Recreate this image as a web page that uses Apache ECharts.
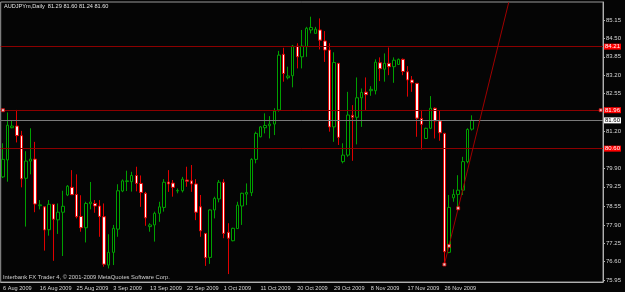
<!DOCTYPE html>
<html>
<head>
<meta charset="utf-8">
<script src="https://cdn.jsdelivr.net/npm/echarts@6/dist/echarts.min.js"></script>
<style>
html, body { margin: 0; padding: 0; background: #050505; }
#chart { width: 625px; height: 292px; }
</style>
</head>
<body>
<div id="chart"></div>
<script>
// ----------- 数据 -----------
var symbolName = 'AUDJPYm,Daily'
var lastQuote = ['81.29', '81.60', '81.24', '81.60']
var footerText = 'Interbank FX Trader 4, \u00a9 2001-2009 MetaQuotes Software Corp.'

// 日线 OHLC, 从 6 Aug 2009 开始 (含周日K线)
var opens = [79.60, 80.20, 81.34, 81.40, 81.06, 79.55, 80.16, 80.23, 78.58, 78.54,
    77.73, 78.63, 78.08, 78.35, 78.96, 79.23, 78.98, 78.20, 77.80, 78.65,
    78.66, 78.57, 78.19, 76.48, 76.93, 77.75, 79.10, 79.44, 79.43, 79.65,
    79.37, 79.02, 77.84, 77.90, 78.31, 78.52, 79.42, 79.38, 79.10, 79.11,
    79.49, 79.46, 79.35, 78.54, 77.60, 76.75, 78.43, 78.82, 79.41, 77.64,
    77.34, 77.77, 78.57, 78.99, 79.04, 80.22, 81.02, 81.34, 81.41, 81.47,
    81.97, 83.94, 83.11, 83.18, 84.23, 83.85, 84.21, 84.80, 84.68, 84.80,
    84.41, 84.09, 81.37, 83.62, 80.14, 80.37, 81.78, 81.71, 82.40, 82.60,
    82.65, 82.65, 83.64, 83.41, 83.62, 83.50, 83.58, 83.76, 83.32, 83.03,
    82.91, 81.67, 80.96, 81.32, 82.03, 81.58, 81.14, 76.93, 78.86, 78.98,
    79.13, 80.14, 81.29]
var closes = [80.22, 81.43, 81.40, 81.06, 79.53, 80.16, 80.23, 78.64, 78.61, 77.72,
    78.63, 78.10, 78.35, 78.56, 79.27, 78.97, 78.19, 77.80, 78.66, 78.71,
    78.57, 78.20, 76.51, 76.93, 77.78, 79.11, 79.46, 79.46, 79.65, 79.37,
    79.05, 78.15, 77.90, 78.31, 78.54, 79.41, 79.35, 79.23, 79.12, 79.52,
    79.45, 79.35, 78.35, 77.69, 76.74, 78.43, 78.84, 79.41, 77.60, 77.43,
    77.78, 78.60, 79.02, 79.05, 80.22, 81.14, 81.37, 81.42, 81.47, 81.93,
    83.91, 83.26, 83.17, 84.23, 83.85, 84.23, 84.86, 84.89, 84.83, 84.44,
    84.09, 81.37, 83.65, 81.00, 80.37, 81.79, 81.71, 82.40, 82.59, 82.51,
    82.70, 83.66, 83.43, 83.62, 83.50, 83.73, 83.76, 83.33, 83.03, 82.93,
    81.68, 81.46, 81.32, 82.03, 81.58, 81.16, 76.95, 78.52, 78.98, 79.13,
    80.14, 81.28, 81.60]
var lows = [79.56, 79.43, 81.32, 80.82, 79.23, 77.84, 79.69, 78.35, 78.45, 76.99,
    77.52, 76.63, 77.58, 76.80, 78.92, 78.96, 78.13, 77.66, 77.28, 78.45,
    78.33, 77.48, 76.42, 76.36, 76.48, 77.48, 79.06, 79.10, 79.08, 79.09,
    78.54, 77.87, 77.66, 77.31, 78.01, 78.37, 79.07, 78.90, 79.02, 79.05,
    79.25, 79.07, 78.07, 77.48, 76.45, 76.52, 78.13, 78.70, 77.43, 76.16,
    77.32, 77.77, 77.90, 78.60, 78.92, 80.08, 81.00, 81.14, 80.96, 81.08,
    81.91, 82.97, 83.05, 82.77, 83.44, 83.44, 83.85, 84.68, 84.68, 84.11,
    83.67, 81.20, 80.84, 80.73, 80.08, 80.31, 80.17, 80.75, 81.37, 81.97,
    82.47, 82.52, 82.99, 82.97, 83.20, 82.93, 83.56, 83.20, 82.44, 82.61,
    81.02, 80.57, 80.94, 81.29, 80.96, 80.88, 76.48, 76.90, 78.72, 78.49,
    78.96, 80.08, 81.24]
var highs = [80.79, 81.88, 81.58, 81.97, 81.23, 80.51, 81.32, 80.84, 78.78, 78.55,
    78.78, 78.64, 78.66, 79.11, 79.31, 79.84, 79.69, 78.95, 78.72, 79.42,
    78.78, 78.78, 78.66, 77.57, 77.90, 79.34, 79.51, 79.82, 79.78, 79.96,
    79.65, 79.07, 77.96, 78.37, 78.72, 79.52, 79.84, 79.49, 79.19, 79.60,
    79.96, 80.02, 79.52, 78.96, 77.60, 78.45, 78.90, 79.49, 79.52, 77.96,
    77.80, 78.72, 79.04, 79.37, 80.26, 81.20, 81.40, 81.85, 81.75, 82.03,
    84.06, 84.17, 83.50, 84.27, 84.33, 84.80, 84.91, 85.27, 84.91, 85.21,
    84.76, 84.33, 84.01, 83.62, 80.79, 82.61, 82.14, 83.12, 82.73, 83.12,
    82.81, 83.76, 83.83, 83.97, 84.18, 83.83, 83.79, 83.79, 83.52, 83.17,
    82.91, 81.97, 81.34, 82.46, 82.06, 81.93, 81.16, 78.96, 79.16, 79.66,
    80.31, 81.32, 81.78]

// 水平线 (价格)
var redLevels = [84.21, 81.96, 80.60]
var bidLevel = 81.60
// 趋势线 [K线序号, 价格]
var trendLine = [[96, 76.50], [110, 85.78]]
var trendPoints = [[96, 76.50], [97, 77.16], [99, 78.49]]
var levelPoints = [[0, 81.96], [130, 81.96]]
// 价格轴刻度
var yTickValues = [75.95, 76.60, 77.25, 77.90, 78.55, 79.25, 79.90, 81.20, 82.55, 83.20, 83.85, 84.50, 85.15]
var totalSlots = 131

// ----------- 日期 (跳过周六) -----------
var monthNames = ['Jan', 'Feb', 'Mar', 'Apr', 'May', 'Jun', 'Jul', 'Aug', 'Sep', 'Oct', 'Nov', 'Dec']
var barDates = []
var d = new Date(2009, 7, 6)
while (barDates.length < totalSlots) {
    if (d.getDay() != 6) {
        barDates.push(d.getDate() + ' ' + monthNames[d.getMonth()] + ' ' + d.getFullYear())
    }
    d.setDate(d.getDate() + 1)
}
function show_date(index) {
    return index % 8 == 0 && index < opens.length - 4
}

var candleData = []
for (var i = 0; i < opens.length; i++) {
    candleData.push([opens[i], closes[i], lows[i], highs[i]])
}

var font = 'Liberation Sans'
var levelLines = redLevels.map(function (v) {
    return {
        yAxis: v,
        lineStyle: { color: '#8c0000', width: 1, type: 'solid' },
        label: {
            show: true, position: 'end', distance: 1, formatter: v.toFixed(2),
            color: '#fff', backgroundColor: '#ff0000', padding: [0, 1, 0, 1],
            fontSize: 6, lineHeight: 6, fontFamily: font
        }
    }
})
levelLines.push({
    yAxis: bidLevel,
    lineStyle: { color: '#7a7a7a', width: 1, type: 'solid' },
    label: {
        show: true, position: 'end', distance: 1, formatter: bidLevel.toFixed(2),
        color: '#000', backgroundColor: '#ffffff', padding: [0, 1, 0, 1],
        fontSize: 6, lineHeight: 6, fontFamily: font
    }
})

var chart = echarts.init(document.getElementById('chart'))
var option = {
    backgroundColor: '#050505',
    animation: false,
    title: [
        {
            text: symbolName + '  ' + lastQuote.join(' '), left: 4, top: 3, padding: 0,
            textStyle: { color: '#e6e6e6', fontSize: 5.6, fontWeight: 'normal', fontFamily: font }
        },
        {
            text: footerText, left: 3, top: 274, padding: 0,
            textStyle: { color: '#d0d0d0', fontSize: 5.8, fontWeight: 'normal', fontFamily: font }
        }
    ],
    grid: { left: 0, right: 22, top: 2, bottom: 10, show: true, borderColor: '#9a9a9a', borderWidth: 1 },
    xAxis: {
        type: 'category',
        data: barDates,
        boundaryGap: true,
        axisLine: { lineStyle: { color: '#b0b0b0' } },
        axisTick: {
            alignWithLabel: true, length: 3, lineStyle: { color: '#b0b0b0' },
            interval: function (index) { return show_date(index) }
        },
        axisLabel: {
            interval: function (index) { return show_date(index) },
            align: 'left', margin: 3, color: '#d8d8d8', fontSize: 5.6, fontFamily: font
        },
        splitLine: { show: false }
    },
    yAxis: {
        type: 'value',
        position: 'right',
        min: 75.88,
        max: 85.79,
        axisLine: { show: true, lineStyle: { color: '#b0b0b0' } },
        axisTick: { show: true, length: 2, customValues: yTickValues, lineStyle: { color: '#b0b0b0' } },
        axisLabel: {
            customValues: yTickValues, margin: 3, color: '#d8d8d8', fontSize: 6, fontFamily: font,
            formatter: function (v) { return v.toFixed(2) }
        },
        splitLine: { show: false }
    },
    series: [
        {
            type: 'candlestick',
            data: candleData,
            barWidth: 3,
            itemStyle: {
                color: '#000000',
                color0: '#fff4f4',
                borderColor: '#00a000',
                borderColor0: '#e00000',
                borderWidth: 1
            },
            markLine: {
                silent: true,
                symbol: ['none', 'none'],
                animation: false,
                data: levelLines
            }
        },
        {
            type: 'line',
            data: trendLine,
            showSymbol: false,
            symbol: 'none',
            lineStyle: { color: '#a00000', width: 1 },
            z: 5
        },
        {
            type: 'scatter',
            data: trendPoints.concat(levelPoints),
            symbol: 'rect',
            symbolSize: 3,
            itemStyle: { color: '#ffffff', borderColor: '#e00000', borderWidth: 1 },
            z: 6
        }
    ]
}
chart.setOption(option)
</script>
</body>
</html>
